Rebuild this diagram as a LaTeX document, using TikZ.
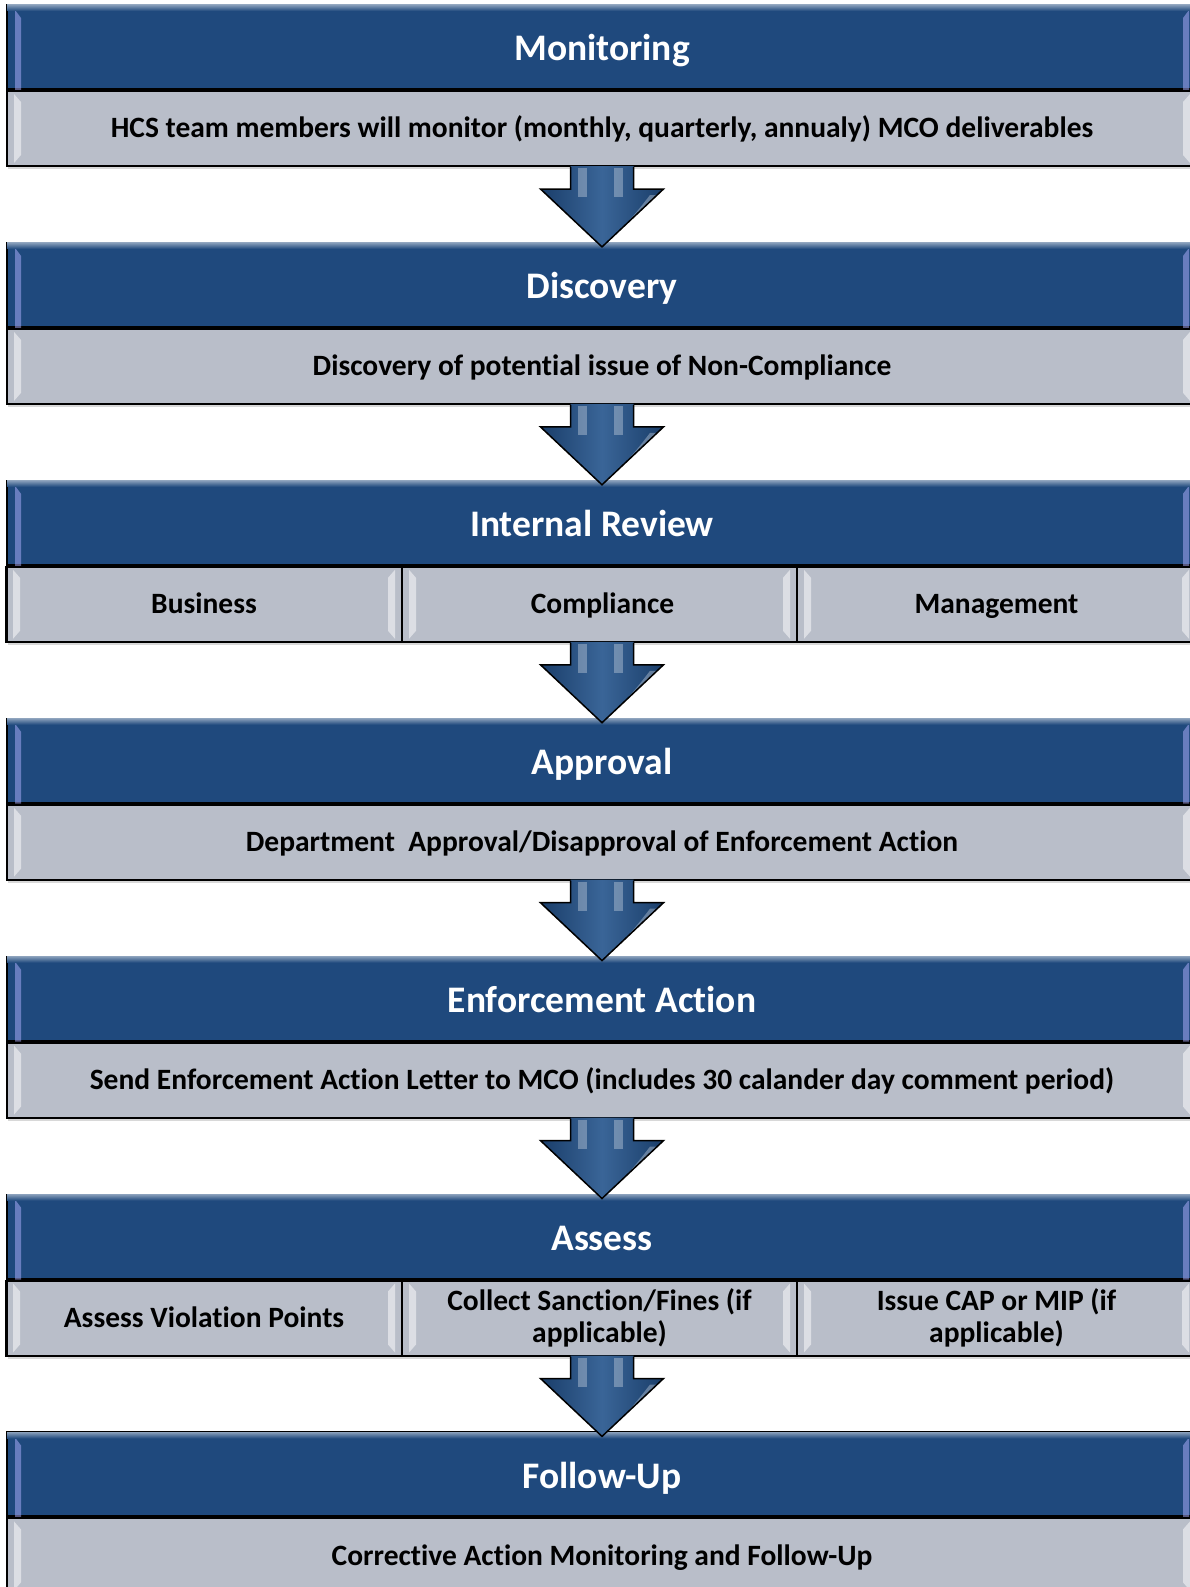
\documentclass[tikz,border=0pt]{standalone}
\usepackage{fontspec}
\setmainfont{Carlito}[Ligatures=NoCommon]
\usetikzlibrary{calc,shadows}
\definecolor{hdr}{HTML}{1F497D}
\definecolor{bdy}{HTML}{B9BEC9}
\definecolor{arw}{HTML}{24548C}
\tikzset{
  hdrbox/.style={rectangle, draw=black, line width=2pt, fill=hdr, inner sep=0pt,
    minimum width=1190pt, minimum height=84pt, text=white,
    text height=30pt, text depth=2.4pt,
    font=\bfseries\fontsize{37.5}{42}\selectfont,
    drop shadow={shadow xshift=1pt, shadow yshift=-3pt, opacity=0.25}},
  bdybox/.style={rectangle, draw=black, line width=2pt, fill=bdy, inner sep=0pt,
    minimum width=1190pt, minimum height=75pt, text=black, anchor=north,
    text height=20pt, text depth=1.4pt,
    font=\bfseries\fontsize{29.5}{31.5}\selectfont,
    drop shadow={shadow xshift=1pt, shadow yshift=-3pt, opacity=0.3}},
  cellbox/.style={rectangle, draw=black, line width=2pt, inner sep=0pt,
    minimum height=75pt, text=black, align=center,
    text height=20pt, text depth=1.4pt,
    font=\bfseries\fontsize{29.5}{31.5}\selectfont},
  twoline/.style={text height={}, text depth={}},
  bevelw/.style={fill=white, opacity=0.5},
  bevelh/.style={fill=blue!30!white, opacity=0.5},
  arrowfill/.style={left color=hdr!85!black, right color=hdr!85!black, middle color=arw!90!white},
  arrowline/.style={draw=black, line width=1.5pt, line join=miter},
  gloss/.style={fill=white, opacity=0.3}
}
\newcommand{\bevels}[1]{%
  \fill[bevelw] ($(#1.north west)+(8,4)$) -- ($(#1.north west)+(15,12)$) -- ($(#1.south west)+(15,-12)$) -- ($(#1.south west)+(8,-4)$) -- cycle;
  \fill[bevelw] ($(#1.north east)+(-8,4)$) -- ($(#1.north east)+(-15,12)$) -- ($(#1.south east)+(-15,-12)$) -- ($(#1.south east)+(-8,-4)$) -- cycle;}
\newcommand{\hbevels}[1]{%
  \fill[bevelh] ($(#1.north west)+(9,6)$) -- ($(#1.north west)+(15,14)$) -- ($(#1.south west)+(15,0)$) -- ($(#1.south west)+(9,0)$) -- cycle;
  \fill[bevelh] ($(#1.north east)+(-9,6)$) -- ($(#1.north east)+(-15,14)$) -- ($(#1.south east)+(-15,0)$) -- ($(#1.south east)+(-9,0)$) -- cycle;
  \shade[top color=hdr!55!white, bottom color=hdr] ($(#1.north west)+(1,1)$) rectangle ($(#1.north east)+(-1,7)$);}
\newcommand{\blockarrow}[2]{%
  \path[arrowfill] ($(#1.south)+(-31.5,-1)$) -- ($(#1.south)+(-31.5,22)$) -- ($(#1.south)+(-61.5,22)$) -- ($(#2.north)+(0,5)$) -- ($(#1.south)+(61.5,22)$) -- ($(#1.south)+(31.5,22)$) -- ($(#1.south)+(31.5,-1)$) -- cycle;
  \fill[gloss] ($(#1.south)+(-24,1)$) rectangle ($(#1.south)+(-15,30)$);
  \fill[gloss] ($(#1.south)+(12,1)$) rectangle ($(#1.south)+(21,30)$);
  \fill[gloss] ($(#1.south)+(48,28)$) .. controls ($(#1.south)+(35,45)$) and ($(#1.south)+(22,60)$) .. ($(#1.south)+(10,72)$) -- ($(#1.south)+(14,74)$) .. controls ($(#1.south)+(28,60)$) and ($(#1.south)+(42,45)$) .. ($(#1.south)+(55,28)$) -- cycle;
  \draw[arrowline] ($(#1.south)+(-31.5,0)$) -- ($(#1.south)+(-31.5,22)$) -- ($(#1.south)+(-61.5,22)$) -- ($(#2.north)+(0,5)$) -- ($(#1.south)+(61.5,22)$) -- ($(#1.south)+(31.5,22)$) -- ($(#1.south)+(31.5,0)$);}
\begin{document}
\begin{tikzpicture}[x=1pt,y=-1pt]
\useasboundingbox (0,0) rectangle (1190,1587);
\fill[white] (0,0) rectangle (1190,1587);
% stages
\foreach \i/\name/\txt in {0/h0/Monitoring,1/h1/Discovery,2/h2/Internal Review\hspace*{20pt},3/h3/Approval,4/h4/Enforcement Action,5/h5/Assess,6/h6/Follow-Up}{
  \node[hdrbox] (\name) at (602,{5+237.9*\i+42}) {\txt};
  \hbevels{\name}
}
% bodies
\node[bdybox] (b0) at (h0.south) {HCS team members will monitor (monthly, quarterly, annualy) MCO deliverables};
\node[bdybox] (b1) at (h1.south) {Discovery of potential issue of Non-Compliance};
\node[bdybox] (b2) at (h2.south) {};
\node[bdybox] (b3) at (h3.south) {Department\ \ Approval/Disapproval of Enforcement Action};
\node[bdybox] (b4) at (h4.south) {Send Enforcement Action Letter to MCO (includes 30 calander day comment period)};
\node[bdybox] (b5) at (h5.south) {};
\node[bdybox] (b6) at (h6.south) {Corrective Action Monitoring and Follow-Up};
\foreach \b in {b0,b1,b3,b4,b6}{\bevels{\b}}
% split rows
\node[cellbox, minimum width=396pt] (c21) at ($(b2.west)+(198,0)$) {Business};
\node[cellbox, minimum width=395pt] (c22) at ($(b2.west)+(593.5,0)$) {\hspace*{6pt}Compliance};
\node[cellbox, minimum width=399pt] (c23) at ($(b2.west)+(990.5,0)$) {Management};
\node[cellbox, minimum width=396pt] (c51) at ($(b5.west)+(198,0)$) {Assess Violation Points};
\node[cellbox, twoline, minimum width=395pt] (c52) at ($(b5.west)+(593.5,0)$) {Collect Sanction/Fines (if\\applicable)};
\node[cellbox, twoline, minimum width=399pt] (c53) at ($(b5.west)+(990.5,0)$) {Issue CAP or MIP (if\\applicable)};
\foreach \c in {c21,c22,c23,c51,c52,c53}{\bevels{\c}}
% arrows
\blockarrow{b0}{h1}
\blockarrow{b1}{h2}
\blockarrow{b2}{h3}
\blockarrow{b3}{h4}
\blockarrow{b4}{h5}
\blockarrow{b5}{h6}
\end{tikzpicture}
\end{document}
